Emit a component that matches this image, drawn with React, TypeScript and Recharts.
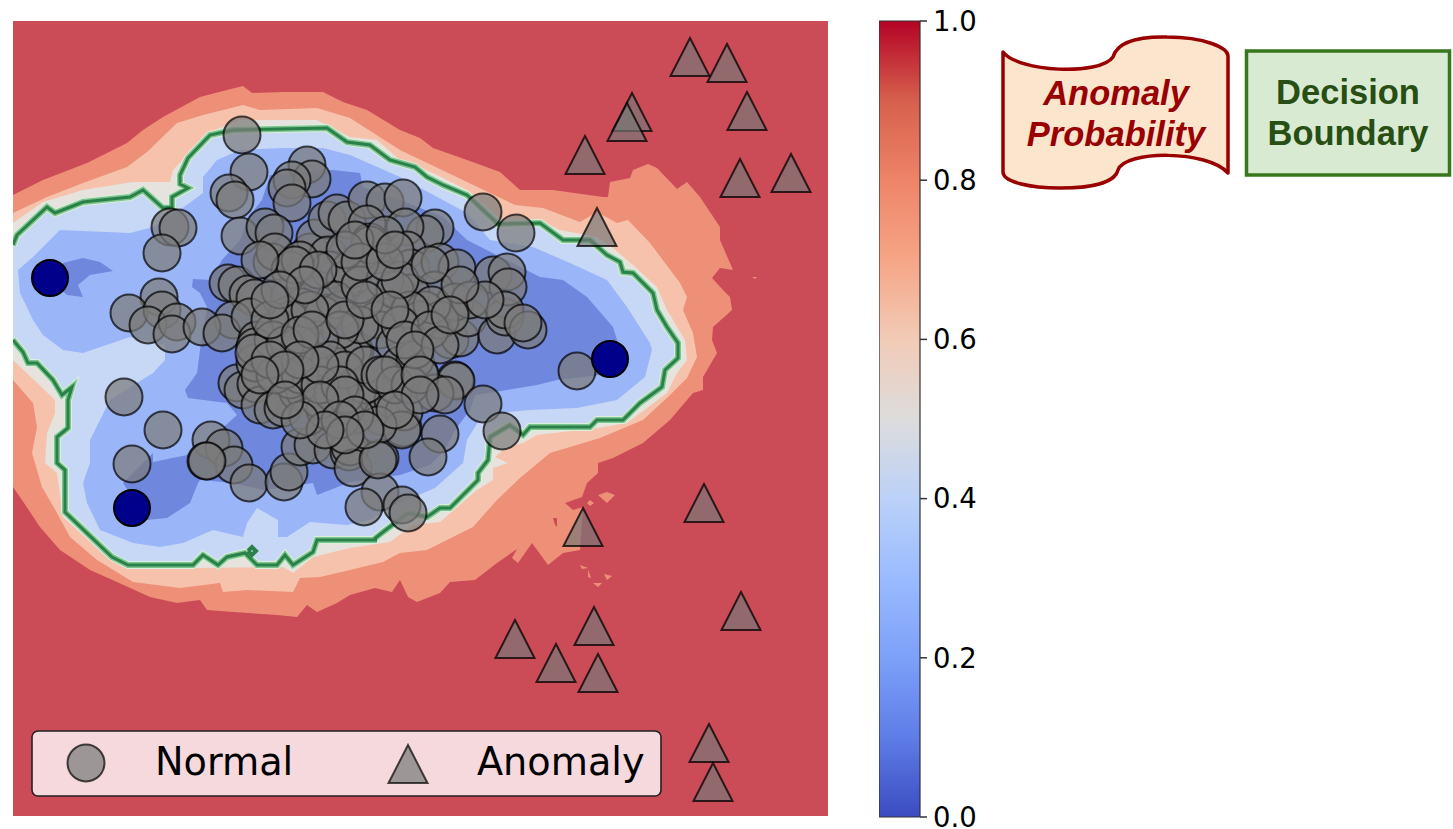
import { Bar, ComposedChart, Legend, Scatter, XAxis, YAxis } from "recharts"

type Pt = [number, number]

const plotBackground: Pt[] = [[13, 21], [828, 21], [828, 816], [13, 816]]

const level80: Pt[] = [
  [13, 195], [43, 180], [87, 163], [127, 143], [143, 130], [163, 117], [200, 97], [227, 90], [243, 86], [252, 93],
  [283, 92], [323, 92], [343, 102], [367, 110], [400, 130], [420, 138], [433, 148], [467, 160], [500, 172], [520, 190],
  [553, 190], [603, 197], [608, 197], [610, 182], [630, 178], [633, 170], [648, 164], [657, 168], [677, 189], [687, 182],
  [700, 197], [720, 227], [720, 240], [733, 270], [720, 268], [712, 278], [723, 290], [730, 297], [732, 310], [713, 327],
  [712, 340], [717, 353], [703, 377], [703, 390], [693, 393], [670, 420], [643, 443], [613, 458], [598, 463], [598, 473],
  [587, 483], [582, 497], [565, 503], [573, 510], [583, 507], [580, 550], [563, 553], [548, 565], [532, 543], [518, 563],
  [512, 558], [517, 549], [497, 563], [475, 580], [450, 582], [440, 593], [417, 602], [408, 597], [400, 580], [392, 592],
  [375, 588], [350, 595], [337, 603], [317, 612], [307, 605], [297, 617], [277, 615], [233, 612], [207, 610], [200, 600],
  [177, 603], [150, 597], [117, 582], [90, 570], [60, 550], [40, 527], [22, 500], [13, 487],
]
const level80Islands: Pt[][] = [
  [[598, 495], [607, 492], [615, 495], [607, 503]],
  [[587, 503], [590, 500], [594, 503], [590, 506]],
  [[580, 565], [588, 568], [582, 569]],
  [[588, 570], [591, 578], [588, 577]],
  [[604, 574], [612, 576], [607, 580]],
  [[593, 583], [602, 583], [598, 587]],
  [[752, 277], [757, 277], [755, 279]],
]
const level80Holes: Pt[][] = [[[553, 518], [557, 518], [557, 527], [555, 525]]]

const level70: Pt[] = [
  [13, 213], [47, 197], [83, 183], [127, 167], [147, 152], [177, 123], [203, 115], [243, 105], [260, 110], [317, 108],
  [350, 118], [400, 150], [515, 205], [543, 208], [580, 222], [597, 212], [617, 223], [628, 220], [650, 243], [680, 283],
  [687, 297], [683, 310], [693, 333], [697, 357], [687, 378], [670, 395], [643, 420], [600, 438], [550, 453], [520, 478],
  [497, 500], [473, 527], [427, 550], [400, 553], [383, 562], [350, 570], [320, 577], [300, 578], [293, 592], [247, 590],
  [223, 592], [220, 583], [180, 588], [133, 582], [97, 560], [70, 537], [57, 513], [42, 487], [32, 453], [37, 427],
  [33, 403], [13, 380],
]

const level60: Pt[] = [
  [13, 223], [43, 202], [83, 190], [133, 182], [170, 182], [173, 170], [190, 152], [210, 132], [240, 120], [317, 120],
  [350, 137], [377, 140], [400, 160], [433, 173], [467, 190], [502, 220], [540, 220], [560, 230], [597, 237], [613, 248],
  [633, 265], [657, 287], [667, 310], [685, 340], [687, 360], [677, 373], [667, 393], [627, 423], [598, 428], [537, 435],
  [523, 443], [507, 447], [495, 457], [508, 463], [493, 468], [493, 480], [477, 490], [440, 522], [413, 525], [390, 542],
  [350, 548], [313, 557], [293, 573], [283, 567], [200, 568], [127, 568], [110, 560], [63, 517], [57, 473], [45, 463],
  [47, 433], [55, 413], [55, 400], [13, 360],
]

// level 0.5, also the decision boundary
const boundary: Pt[] = [
  [13, 245], [17, 235], [47, 207], [55, 213], [83, 202], [130, 197], [143, 190], [163, 208], [172, 207], [172, 197],
  [188, 188], [180, 184], [180, 175], [188, 158], [210, 135], [233, 130], [327, 128], [347, 142], [370, 145], [390, 160],
  [415, 167], [427, 177], [443, 185], [467, 195], [498, 224], [540, 223], [563, 240], [590, 240], [607, 255], [620, 262],
  [623, 272], [633, 273], [653, 293], [657, 310], [667, 327], [678, 343], [678, 358], [665, 370], [662, 387], [640, 403],
  [623, 420], [597, 420], [590, 427], [530, 427], [523, 435], [510, 425], [490, 437], [488, 460], [478, 473], [478, 480],
  [450, 508], [440, 508], [427, 517], [408, 513], [383, 532], [373, 540], [377, 540], [317, 540], [313, 552], [293, 565],
  [285, 555], [277, 565], [257, 565], [245, 553], [227, 557], [218, 565], [203, 555], [193, 565], [128, 565], [112, 557],
  [65, 512], [65, 470], [57, 463], [57, 437], [68, 428], [68, 400], [72, 387], [62, 395], [53, 380], [37, 363],
  [28, 363], [23, 352], [13, 340],
]
const boundaryDiamond: Pt[] = [[248, 551], [252, 547], [256, 551], [252, 555], [248, 551]]

const level30: Pt[] = [
  [18, 270], [33, 257], [60, 230], [130, 233], [153, 227], [180, 210], [203, 193], [203, 177], [217, 160], [240, 150],
  [283, 148], [323, 148], [350, 155], [400, 177], [467, 213], [490, 240], [533, 247], [570, 263], [607, 280], [627, 307],
  [650, 343], [652, 350], [645, 377], [617, 400], [577, 408], [530, 410], [507, 412], [478, 422], [467, 440], [463, 463],
  [435, 488], [395, 505], [370, 520], [347, 525], [310, 522], [287, 537], [278, 537], [278, 520], [257, 508], [247, 523],
  [243, 537], [213, 530], [183, 543], [160, 547], [133, 543], [100, 530], [87, 503], [83, 483], [90, 463], [90, 440],
  [110, 400], [153, 373], [165, 360], [165, 345], [130, 337], [83, 353], [63, 350], [43, 335], [33, 320], [20, 293],
]

const level15Left: Pt[] = [
  [63, 263], [83, 258], [100, 262], [113, 271], [90, 275], [78, 285], [83, 297], [67, 295], [58, 287],
]
const level15Main: Pt[] = [
  [270, 175], [333, 170], [360, 173], [363, 187], [400, 200], [443, 217], [467, 240], [540, 277], [563, 280], [587, 297],
  [613, 327], [618, 343], [623, 355], [600, 375], [557, 380], [537, 385], [507, 390], [475, 395], [470, 410], [455, 430],
  [445, 450], [430, 465], [400, 475], [350, 482], [330, 490], [317, 495], [313, 483], [287, 487], [263, 490], [233, 483],
  [200, 480], [198, 483], [190, 503], [167, 518], [147, 520], [123, 483], [153, 453], [153, 462], [187, 455], [217, 433],
  [237, 415], [227, 403], [188, 398], [185, 390], [197, 373], [200, 350], [207, 307], [200, 293], [192, 287], [193, 279],
  [210, 280], [222, 260], [240, 240], [250, 215], [262, 200],
]

const normalPoints: Pt[] = [
  [242, 135], [249, 172], [229, 193], [235, 200], [307, 165], [312, 179], [292, 180], [287, 188], [292, 203], [170, 227],
  [178, 228], [162, 253], [240, 236], [265, 227], [274, 233], [272, 262], [275, 252], [310, 252], [315, 238], [327, 220],
  [337, 213], [347, 220], [367, 200], [385, 202], [403, 198], [367, 224], [380, 255], [370, 242], [352, 278], [328, 255],
  [228, 283], [237, 285], [248, 294], [255, 298], [289, 297], [317, 295], [325, 313], [302, 307], [340, 310], [373, 307],
  [233, 320], [159, 297], [129, 313], [162, 310], [148, 325], [177, 322], [172, 334], [202, 327], [222, 333], [250, 317],
  [257, 340], [273, 332], [288, 315], [290, 320], [323, 315], [355, 352], [310, 367], [312, 368], [124, 397], [163, 430],
  [132, 464], [211, 440], [224, 448], [234, 465], [206, 461], [207, 461], [249, 483], [284, 482], [289, 472], [300, 447],
  [313, 445], [333, 450], [349, 452], [350, 447], [353, 468], [380, 458], [380, 492], [364, 507], [402, 505], [408, 513],
  [237, 383], [243, 390], [256, 384], [260, 405], [273, 410], [283, 408], [298, 392], [305, 392], [308, 417], [325, 410],
  [333, 393], [348, 398], [367, 387], [371, 403], [377, 397], [403, 428], [382, 417], [393, 400], [255, 363], [255, 347],
  [273, 340], [353, 350], [377, 320], [420, 337], [450, 340], [460, 338], [468, 318], [497, 335], [505, 317], [419, 372],
  [455, 380], [456, 381], [435, 393], [483, 404], [502, 431], [440, 434], [428, 457], [404, 412], [402, 430], [435, 228],
  [425, 234], [405, 227], [407, 250], [411, 268], [440, 262], [457, 268], [435, 290], [411, 293], [455, 302], [493, 275],
  [507, 272], [508, 287], [505, 310], [483, 212], [516, 233], [528, 330], [523, 323], [254, 353], [345, 355], [365, 385],
  [378, 425], [378, 460], [330, 270], [345, 280], [350, 270], [335, 300], [360, 285], [385, 280], [395, 290], [380, 330],
  [395, 345], [360, 325], [340, 330], [320, 340], [300, 345], [285, 345], [270, 320], [310, 310], [330, 360], [345, 370],
  [365, 365], [380, 375], [400, 365], [415, 360], [395, 385], [410, 385], [290, 380], [275, 375], [300, 375], [320, 385],
  [340, 385], [425, 310], [440, 320], [420, 320], [432, 305], [410, 310], [400, 325], [290, 270], [300, 260], [295, 265],
  [260, 260], [400, 280], [370, 245], [577, 371], [345, 250], [360, 262], [385, 262], [355, 240], [385, 235], [395, 250],
  [318, 270], [305, 285], [280, 290], [270, 300], [300, 335], [312, 330], [345, 320], [365, 300], [390, 310], [405, 340],
  [430, 330], [440, 345], [415, 350], [320, 365], [300, 360], [270, 360], [285, 370], [260, 375], [345, 395], [320, 400],
  [355, 415], [340, 420], [385, 375], [420, 375], [445, 395], [420, 395], [395, 410], [365, 430], [345, 435], [325, 430],
  [300, 420], [285, 400], [470, 300], [485, 300], [460, 285], [430, 265], [450, 315],
]
const highlightedPoints: Pt[] = [[50, 278], [610, 359], [132, 508]]
const anomalyPoints: Pt[] = [
  [690, 57], [727, 63], [632, 112], [627, 122], [747, 111], [585, 155], [740, 178], [791, 173], [597, 227], [704, 503],
  [583, 527], [741, 611], [594, 626], [515, 639], [556, 663], [598, 673], [709, 743], [713, 782],
]

const colorbarTicks = [0, 0.2, 0.4, 0.6, 0.8, 1]
const colorbarStops: [number, string][] = [
  [0, "#3b4cc0"], [0.1, "#5e7de7"], [0.2, "#7da0f9"], [0.3, "#9abbff"], [0.4, "#bbd1f8"], [0.5, "#dddcdc"],
  [0.6, "#f2cbb7"], [0.7, "#f6a586"], [0.8, "#ee8468"], [0.9, "#d6604d"], [1, "#b40426"],
]
const colorbarData = [{ name: "p", value: 1 }]

const toData = (pts: Pt[]) => pts.map(([x, y]) => ({ x, y }))
const noMark = () => null

const Contour = (key: string, pts: Pt[], fill: string) => (
  <Scatter
    key={key}
    data={toData(pts)}
    dataKey="y"
    shape={noMark}
    line={{ fill, stroke: "none" }}
    legendType="none"
    isAnimationActive={false}
  />
)

const Glow = (key: string, pts: Pt[], stroke: string, width: number) => (
  <Scatter
    key={key}
    data={toData(pts)}
    dataKey="y"
    shape={noMark}
    line={{ fill: "none", stroke, strokeWidth: width, strokeLinejoin: "miter" }}
    legendType="none"
    isAnimationActive={false}
  />
)

const NormalDot = (p: any) => (
  <circle cx={p.cx} cy={p.cy} r={18.5} fill="#7c7c7c" fillOpacity={0.72} stroke="#000" strokeOpacity={0.7} strokeWidth={2} />
)
const HighlightDot = (p: any) => (
  <circle cx={p.cx} cy={p.cy} r={18} fill="#00008b" stroke="#000" strokeWidth={2} />
)
const AnomalyMark = (p: any) => (
  <path
    d={`M${p.cx} ${p.cy - 19}L${p.cx + 19.5} ${p.cy + 19}L${p.cx - 19.5} ${p.cy + 19}Z`}
    fill="#787878"
    fillOpacity={0.68}
    stroke="#000"
    strokeOpacity={0.75}
    strokeWidth={2}
  />
)

const legendText = { fontFamily: "DejaVu Sans", fontSize: 38.2, fill: "#000" }

const LegendBox = () => (
  <svg width={632} height={68} style={{ display: "block" }}>
    <rect x={1} y={1} width={629} height={65} rx={6} fill="#f5d9dc" stroke="#222" strokeWidth={1.6} />
    <circle cx={55} cy={33} r={18.5} fill="#7c7c7c" fillOpacity={0.72} stroke="#000" strokeOpacity={0.7} strokeWidth={2} />
    <text x={124} y={45} {...legendText}>Normal</text>
    <path d="M377 15L396.500 53L357.500 53Z" fill="#7c7c7c" fillOpacity={0.72} stroke="#000" strokeOpacity={0.7} strokeWidth={2} />
    <text x={446} y={45} {...legendText}>Anomaly</text>
  </svg>
)

const labelFont = { fontFamily: "Liberation Sans", fontWeight: 700, fontSize: 34.5 }

export default function App() {
  return (
    <div style={{ position: "absolute", left: 0, top: 0, width: 1453, height: 829, background: "#fff" }}>
      <div style={{ position: "absolute", left: 13, top: 21 }}>
        <ComposedChart width={815} height={795} margin={{ top: 0, right: 0, bottom: 0, left: 0 }}>
          <XAxis type="number" dataKey="x" domain={[13, 828]} hide allowDataOverflow />
          <YAxis type="number" dataKey="y" domain={[21, 816]} reversed hide allowDataOverflow />
          {Contour("bg", plotBackground, "#cb4c57")}
          {Contour("l80", level80, "#ee8f78")}
          {level80Islands.map((pts, i) => Contour(`isle${i}`, pts, "#ee8f78"))}
          {level80Holes.map((pts, i) => Contour(`hole${i}`, pts, "#cb4c57"))}
          {Contour("l70", level70, "#f6c2ab")}
          {Contour("l60", level60, "#e6e2dd")}
          {Contour("l50", boundary, "#c7d7f6")}
          {Contour("l30", level30, "#9bb6f8")}
          {Contour("l15a", level15Left, "#6f87dc")}
          {Contour("l15b", level15Main, "#6f87dc")}
          {Glow("g1", boundary, "#dcefdc", 8)}
          {Glow("g2", boundary, "#7cc48e", 6)}
          {Glow("g3", boundary, "#2a8049", 3)}
          {Glow("g4", boundaryDiamond, "#2a8049", 4)}
          <Scatter data={toData(anomalyPoints)} dataKey="y" shape={AnomalyMark} legendType="none" isAnimationActive={false} />
          <Scatter data={toData(normalPoints)} dataKey="y" shape={NormalDot} legendType="none" isAnimationActive={false} />
          <Scatter data={toData(highlightedPoints)} dataKey="y" shape={HighlightDot} legendType="none" isAnimationActive={false} />
          <Legend
            layout="vertical"
            align="center"
            verticalAlign="middle"
            content={LegendBox}
            wrapperStyle={{ position: "absolute", left: 18, top: 709, width: 632, height: 68 }}
          />
        </ComposedChart>
      </div>

      <div style={{ position: "absolute", left: 879, top: 1 }}>
        <ComposedChart
          width={112}
          height={828}
          data={colorbarData}
          barCategoryGap={0}
          margin={{ top: 20, right: 0, bottom: 12, left: 0 }}
        >
          <defs>
            <linearGradient id="coolwarm" x1="0" y1="1" x2="0" y2="0">
              {colorbarStops.map(([o, c]) => (
                <stop key={o} offset={o} stopColor={c} />
              ))}
            </linearGradient>
          </defs>
          <XAxis dataKey="name" hide />
          <YAxis
            orientation="right"
            type="number"
            domain={[0, 1]}
            ticks={colorbarTicks}
            width={71}
            interval={0}
            tickFormatter={(v: number) => v.toFixed(1)}
            axisLine={false}
            tickLine={{ stroke: "#333", strokeWidth: 1.5 }}
            tickSize={7}
            tickMargin={6}
            tick={{ fill: "#000", fontSize: 27.5, fontFamily: "DejaVu Sans" }}
          />
          <Bar dataKey="value" fill="url(#coolwarm)" stroke="#333" strokeWidth={1.2} isAnimationActive={false} />
        </ComposedChart>
      </div>

      <svg width={1453} height={829} style={{ position: "absolute", left: 0, top: 0, pointerEvents: "none" }}>
        <path
          d="M1003 52C1018 72 1100 76 1113 57C1115 50 1122 36 1167 37C1205 37 1228 48 1228 56L1228 173C1208 150 1125 150 1118 170C1115 183 1090 188 1060 188C1030 188 1003 182 1003 172Z"
          fill="#fce5cd"
          stroke="#990000"
          strokeWidth={3.5}
          strokeLinejoin="round"
        />
        <text x={1116} y={105} textAnchor="middle" fontStyle="italic" fill="#990000" {...labelFont}>Anomaly</text>
        <text x={1116} y={146} textAnchor="middle" fontStyle="italic" fill="#990000" {...labelFont}>Probability</text>
        <rect x={1246.500} y={51} width={203} height={124} fill="#d9ead3" stroke="#38761d" strokeWidth={3.5} />
        <text x={1348} y={104} textAnchor="middle" fill="#274e13" {...labelFont}>Decision</text>
        <text x={1348} y={145} textAnchor="middle" fill="#274e13" {...labelFont}>Boundary</text>
      </svg>
    </div>
  )
}
